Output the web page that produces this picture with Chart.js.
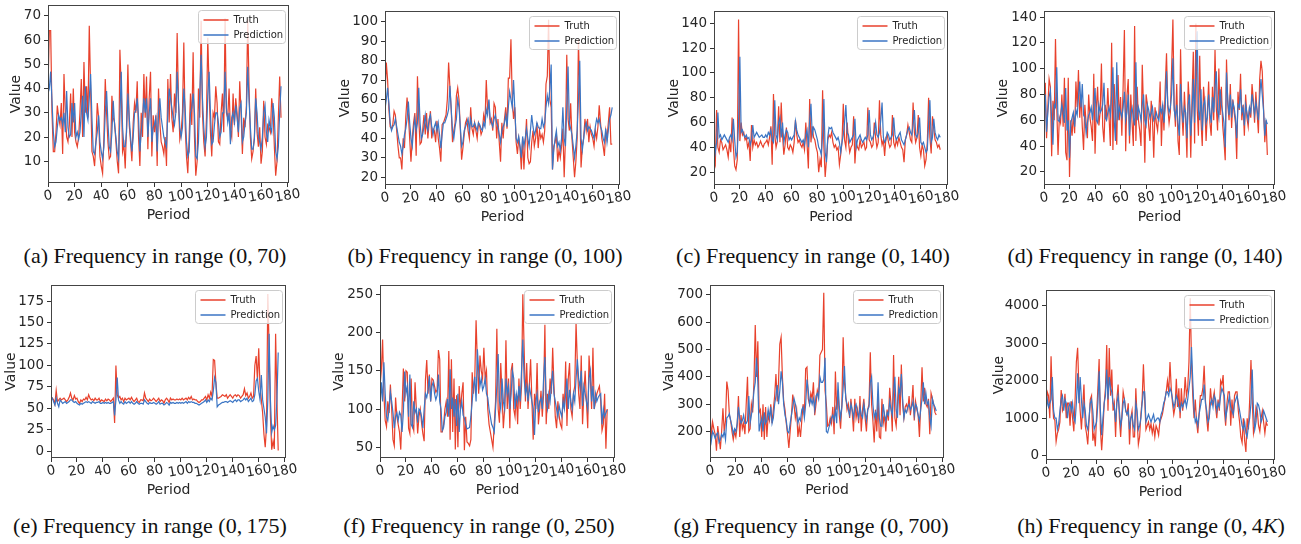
<!DOCTYPE html>
<html lang="en">
<head>
<meta charset="UTF-8">
<title>Truth vs Prediction by frequency range</title>
<style>
  body { margin: 0; background: #fff; }
  #figure { position: relative; width: 1301px; height: 544px; overflow: hidden; }
  .panel { position: absolute; }
  .caption {
    position: absolute;
    width: 400px;
    text-align: center;
    font: 22px "Liberation Serif", "Times New Roman", serif;
    line-height: 22px;
    color: #111;
    white-space: nowrap;
  }
</style>
</head>
<body>
<div id="figure"></div>

<script src="https://cdn.jsdelivr.net/npm/chart.js@4.4.0/dist/chart.umd.min.js"></script>
<script>
  const TRUTH_COLOR = '#e8412c';
  const PRED_COLOR = '#3b75c4';
  const TEXT_COLOR = '#262626';

  const X_TICKS = [0, 20, 40, 60, 80, 100, 120, 140, 160, 180];

  // (a) 0-70
  const Y_TICKS_A = [10, 20, 30, 40, 50, 60, 70];
  const TRUTH_A = [
    40, 64, 64, 30, 14, 14, 22, 33, 28, 25,
    34, 13, 46, 30, 20, 18, 25, 38, 20, 40,
    22, 18, 16, 20, 30, 44, 20, 51, 30, 41,
    28, 66, 40, 14, 12, 8, 18, 34, 28, 12,
    8, 5, 20, 44, 30, 18, 11, 12, 37, 28,
    26, 18, 10, 5, 56, 40, 14, 17, 7, 25,
    50, 25, 18, 10, 26, 34, 30, 43, 20, 8,
    30, 20, 46, 28, 45, 15, 36, 47, 12, 29,
    22, 29, 8, 40, 26, 18, 16, 13, 20, 8,
    44, 26, 46, 28, 22, 38, 30, 63, 35, 19,
    22, 30, 59, 25, 12, 5, 20, 38, 25, 55,
    20, 4, 10, 40, 28, 68, 30, 18, 12, 28,
    61, 40, 22, 12, 30, 28, 41, 34, 18, 17,
    30, 38, 22, 69, 30, 28, 40, 23, 20, 38,
    25, 36, 30, 20, 43, 30, 13, 28, 24, 33,
    69, 40, 20, 11, 14, 20, 40, 22, 16, 24,
    9, 14, 35, 20, 17, 25, 24, 22, 36, 31,
    16, 4, 10, 28, 45, 28
  ];
  const PRED_A = [
    38, 40, 47, 35, 22, 16, 18, 24, 29, 27,
    28, 25, 30, 22, 39, 24, 20, 21, 34, 26,
    34, 20, 22, 19, 22, 30, 37, 20, 41, 30,
    27, 36, 46, 28, 14, 13, 18, 22, 29, 18,
    14, 11, 16, 30, 39, 26, 16, 14, 22, 35,
    25, 20, 14, 11, 28, 47, 24, 16, 16, 22,
    38, 28, 20, 14, 20, 30, 31, 36, 28, 14,
    22, 28, 36, 30, 36, 20, 30, 36, 18, 24,
    25, 28, 14, 30, 36, 28, 24, 20, 18, 16,
    30, 40, 36, 32, 28, 25, 30, 47, 34, 24,
    20, 24, 40, 32, 18, 12, 14, 30, 32, 38,
    30, 12, 11, 18, 38, 54, 36, 24, 16, 20,
    37, 47, 30, 17, 18, 25, 30, 30, 26, 20,
    22, 30, 30, 47, 32, 26, 30, 17, 28, 30,
    26, 33, 28, 22, 32, 34, 18, 20, 26, 30,
    49, 35, 24, 15, 15, 19, 36, 30, 20, 18,
    15, 20, 30, 33, 22, 18, 27, 24, 22, 34,
    28, 14, 11, 16, 30, 41
  ];

  // (b) 0-100
  const Y_TICKS_B = [20, 30, 40, 50, 60, 70, 80, 90, 100];
  const TRUTH_B = [
    62, 79, 70, 55, 46, 45, 47, 54, 52, 44,
    36, 30, 30, 24, 40, 35, 51, 61, 52, 40,
    28, 40, 48, 53, 31, 72, 50, 37, 38, 44,
    52, 42, 53, 40, 48, 54, 40, 45, 44, 38,
    49, 40, 35, 28, 47, 48, 50, 52, 60, 79,
    66, 55, 38, 44, 48, 62, 66, 60, 45, 29,
    35, 42, 48, 50, 44, 40, 56, 45, 42, 48,
    44, 40, 48, 46, 42, 44, 52, 48, 70, 55,
    58, 48, 50, 44, 58, 56, 40, 50, 38, 28,
    48, 40, 50, 56, 45, 71, 71, 91, 60, 50,
    56, 38, 32, 40, 35, 24, 40, 24, 38, 50,
    30, 27, 28, 38, 44, 36, 40, 48, 35, 44,
    40, 42, 38, 44, 68, 72, 101, 60, 56, 24,
    36, 38, 42, 28, 34, 30, 36, 45, 20, 40,
    83, 50, 44, 58, 40, 30, 20, 28, 40, 91,
    60, 25, 36, 40, 50, 44, 50, 38, 46, 42,
    40, 36, 44, 40, 46, 57, 48, 40, 36, 31,
    44, 40, 48, 56, 37, 37
  ];
  const PRED_B = [
    55, 60, 66, 58, 48, 44, 46, 47, 50, 46,
    42, 38, 36, 32, 36, 42, 45, 50, 59, 48,
    40, 36, 45, 50, 44, 48, 66, 48, 40, 42,
    46, 52, 46, 44, 50, 52, 46, 42, 46, 48,
    44, 48, 42, 35, 42, 48, 48, 50, 52, 55,
    67, 55, 44, 40, 46, 50, 60, 56, 46, 36,
    38, 44, 46, 48, 50, 44, 50, 46, 46, 48,
    46, 44, 48, 47, 45, 44, 48, 46, 55, 52,
    60, 50, 48, 46, 50, 52, 48, 46, 42, 38,
    44, 46, 48, 52, 46, 56, 64, 60, 56, 70,
    55, 40, 38, 41, 36, 30, 41, 36, 40, 45,
    40, 36, 44, 52, 46, 42, 44, 48, 46, 45,
    45, 50, 46, 48, 56, 62, 58, 66, 78, 24,
    34, 40, 44, 36, 38, 34, 40, 56, 40, 36,
    56, 77, 48, 45, 42, 36, 30, 36, 44, 60,
    80, 40, 34, 40, 46, 48, 44, 46, 45, 44,
    42, 40, 46, 50, 48, 50, 46, 44, 40, 38,
    45, 38, 44, 50, 52, 56
  ];

  // (c) 0-140
  const Y_TICKS_C = [20, 40, 60, 80, 100, 120, 140];
  const TRUTH_C = [
    30, 26, 70, 40, 36, 46, 44, 38, 40, 42,
    38, 32, 44, 36, 64, 40, 25, 22, 30, 143,
    45, 60, 50, 52, 46, 48, 40, 44, 29, 58,
    40, 46, 42, 44, 40, 42, 45, 42, 40, 43,
    44, 46, 42, 48, 57, 26, 83, 50, 40, 45,
    73, 44, 76, 50, 34, 42, 56, 40, 38, 42,
    40, 36, 44, 62, 50, 44, 46, 42, 40, 44,
    38, 60, 42, 23, 79, 44, 57, 48, 46, 40,
    36, 20, 30, 24, 86, 40, 16, 30, 46, 50,
    48, 52, 44, 40, 42, 38, 40, 26, 34, 44,
    75, 46, 40, 60, 44, 36, 40, 42, 65, 27,
    44, 40, 38, 46, 40, 42, 44, 38, 40, 72,
    46, 44, 40, 42, 60, 48, 40, 44, 78, 50,
    42, 46, 33, 48, 50, 44, 40, 42, 66, 44,
    40, 46, 42, 48, 44, 40, 38, 28, 46, 50,
    58, 52, 46, 44, 76, 52, 44, 48, 66, 40,
    33, 42, 38, 25, 30, 44, 80, 48, 35, 65,
    55, 46, 44, 40, 42, 38
  ];
  const PRED_C = [
    48, 36, 44, 68, 48, 50, 46, 48, 50, 48,
    46, 44, 48, 50, 46, 63, 46, 32, 36, 60,
    113, 52, 54, 50, 48, 50, 47, 48, 42, 46,
    58, 48, 50, 52, 50, 48, 49, 50, 48, 48,
    50, 48, 52, 50, 54, 46, 44, 78, 50, 46,
    60, 64, 48, 60, 44, 50, 54, 52, 46, 48,
    46, 48, 50, 61, 54, 50, 48, 46, 44, 46,
    42, 50, 54, 40, 62, 75, 50, 56, 54, 50,
    46, 40, 38, 34, 50, 79, 36, 28, 48, 56,
    55, 56, 52, 50, 48, 46, 48, 44, 36, 44,
    50, 60, 74, 52, 50, 44, 46, 48, 50, 63,
    40, 46, 48, 50, 46, 44, 46, 48, 46, 50,
    70, 50, 46, 48, 52, 60, 50, 48, 52, 62,
    76, 48, 44, 46, 52, 50, 46, 48, 50, 64,
    50, 46, 48, 50, 52, 46, 44, 42, 46, 50,
    54, 56, 52, 50, 58, 70, 50, 48, 52, 64,
    44, 42, 44, 40, 36, 38, 60, 78, 44, 48,
    63, 52, 48, 46, 50, 48
  ];

  // (d) 0-140
  const Y_TICKS_D = [20, 40, 60, 80, 100, 120, 140];
  const TRUTH_D = [
    45, 89, 46, 70, 92, 86, 32, 75, 60, 123,
    70, 33, 62, 58, 80, 55, 93, 35, 29, 93,
    16, 60, 48, 65, 50, 90, 70, 99, 62, 80,
    55, 37, 72, 58, 46, 80, 62, 55, 44, 96,
    34, 70, 86, 56, 66, 104, 55, 43, 72, 60,
    85, 62, 40, 120, 37, 88, 66, 41, 95, 60,
    78, 48, 86, 130, 36, 79, 92, 42, 80, 58,
    40, 133, 44, 86, 60, 52, 40, 103, 68, 27,
    80, 72, 56, 44, 75, 60, 31, 70, 58, 52,
    66, 90, 40, 72, 52, 86, 112, 70, 58, 66,
    100, 138, 72, 55, 88, 44, 33, 115, 66, 48,
    82, 60, 31, 90, 72, 31, 78, 113, 42, 135,
    70, 48, 110, 60, 40, 86, 72, 44, 66, 90,
    58, 48, 86, 60, 115, 70, 52, 100, 64, 86,
    56, 44, 29, 107, 72, 60, 88, 54, 76, 66,
    58, 30, 82, 68, 96, 60, 72, 48, 80, 62,
    55, 70, 62, 88, 76, 58, 82, 65, 50, 92,
    106, 98, 70, 43, 60, 33
  ];
  const PRED_D = [
    60, 80, 51, 66, 78, 83, 60, 41, 72, 70,
    101, 60, 59, 64, 72, 66, 58, 85, 52, 60,
    31, 58, 62, 66, 55, 68, 64, 78, 90, 70,
    88, 64, 62, 50, 58, 64, 66, 70, 60, 72,
    85, 60, 58, 72, 66, 68, 72, 89, 62, 60,
    66, 70, 64, 80, 101, 60, 44, 105, 60, 70,
    66, 62, 70, 82, 60, 66, 80, 48, 66, 70,
    62, 56, 105, 60, 70, 66, 60, 72, 80, 60,
    56, 72, 68, 62, 66, 70, 60, 62, 66, 62,
    60, 70, 66, 72, 58, 70, 98, 72, 66, 70,
    80, 108, 68, 62, 72, 58, 48, 88, 70, 58,
    70, 66, 46, 72, 80, 48, 66, 92, 58, 98,
    129, 68, 60, 84, 52, 72, 76, 58, 62, 80,
    66, 58, 78, 66, 86, 98, 68, 62, 84, 72,
    66, 58, 39, 97, 76, 64, 80, 62, 74, 70,
    62, 46, 72, 70, 84, 66, 70, 56, 72, 66,
    60, 70, 66, 80, 72, 64, 74, 68, 60, 78,
    92, 80, 68, 48, 60, 57
  ];

  // (e) 0-175
  const Y_TICKS_E = [0, 25, 50, 75, 100, 125, 150, 175];
  const TRUTH_E = [
    64, 62, 60, 55, 71, 58, 60, 62, 60, 61,
    62, 60, 58, 60, 63, 68, 62, 60, 65, 61,
    62, 58, 56, 60, 58, 61, 60, 63, 60, 66,
    62, 60, 61, 59, 62, 60, 60, 62, 58, 60,
    59, 58, 61, 59, 61, 60, 58, 60, 62, 33,
    100, 66, 62, 64, 60, 62, 58, 62, 60, 61,
    62, 60, 63, 60, 58, 60, 62, 58, 57, 60,
    60, 59, 68, 62, 60, 58, 61, 59, 60, 62,
    60, 58, 60, 62, 58, 60, 59, 56, 60, 62,
    60, 57, 62, 60, 61, 60, 60, 61, 60, 61,
    60, 62, 60, 61, 62, 60, 63, 61, 64, 60,
    61, 60, 60, 58, 57, 58, 60, 60, 62, 64,
    60, 66, 62, 69, 64, 107, 106, 80, 62, 62,
    63, 64, 66, 65, 64, 66, 62, 64, 66, 64,
    62, 65, 66, 64, 66, 65, 62, 64, 66, 73,
    65, 68, 62, 64, 68, 62, 64, 100, 111, 83,
    120, 75, 60, 45, 20, 5, 30, 183, 120, 40,
    2, 12, 3, 137, 60, 1
  ];
  const PRED_E = [
    60, 62, 58, 54, 62, 56, 52, 60, 58, 56,
    57, 58, 56, 57, 58, 60, 60, 58, 57, 58,
    56, 55, 54, 56, 55, 56, 57, 58, 57, 58,
    57, 56, 58, 57, 56, 57, 57, 58, 56, 56,
    57, 56, 57, 56, 57, 56, 56, 57, 58, 42,
    60, 86, 60, 56, 58, 56, 55, 58, 56, 57,
    58, 56, 58, 56, 55, 56, 58, 56, 55, 56,
    56, 55, 60, 58, 56, 55, 57, 56, 56, 57,
    56, 55, 56, 58, 55, 56, 56, 54, 55, 57,
    56, 54, 57, 56, 57, 56, 56, 57, 56, 57,
    56, 57, 56, 57, 58, 56, 58, 57, 58, 57,
    57, 56, 56, 55, 54, 55, 56, 57, 58, 60,
    57, 60, 58, 62, 60, 70, 86, 80, 52, 54,
    55, 56, 57, 57, 58, 58, 57, 58, 59, 58,
    57, 59, 60, 58, 60, 60, 58, 59, 60, 62,
    60, 62, 58, 60, 62, 58, 59, 66, 82, 85,
    70, 60, 89, 60, 50, 40, 21, 60, 137, 60,
    22, 30, 25, 30, 60, 115
  ];

  // (f) 0-250
  const Y_TICKS_F = [50, 100, 150, 200, 250];
  const TRUTH_F = [
    130, 150, 191, 120, 85, 77, 110, 95, 132, 100,
    60, 52, 115, 90, 80, 70, 47, 100, 153, 110,
    150, 148, 75, 68, 140, 80, 72, 135, 100, 68,
    90, 100, 82, 68, 58, 138, 164, 120, 145, 110,
    140, 138, 130, 122, 125, 177, 165, 70, 70, 80,
    100, 110, 90, 176, 60, 165, 70, 140, 47, 118,
    50, 130, 100, 120, 135, 46, 90, 57, 55, 52,
    60, 148, 120, 140, 216, 160, 120, 170, 150, 140,
    180, 140, 150, 100, 80, 70, 60, 50, 80, 110,
    205, 100, 82, 160, 120, 75, 100, 190, 100, 140,
    75, 150, 160, 100, 90, 120, 80, 140, 100, 130,
    250, 180, 110, 160, 100, 130, 165, 110, 60, 120,
    100, 160, 80, 100, 124, 90, 120, 210, 80, 120,
    100, 140, 120, 180, 130, 90, 75, 110, 90, 80,
    75, 120, 100, 162, 78, 140, 160, 100, 90, 120,
    130, 212, 160, 120, 100, 170, 80, 120, 150, 110,
    75, 170, 140, 100, 180, 100, 110, 120, 125, 130,
    110, 72, 80, 120, 48, 100
  ];
  const PRED_F = [
    100, 135, 110, 161, 120, 90, 85, 100, 122, 110,
    95, 75, 90, 95, 85, 96, 92, 70, 96, 149,
    120, 130, 90, 145, 80, 76, 110, 95, 100, 82,
    100, 98, 90, 75, 100, 120, 115, 125, 143, 110,
    130, 135, 120, 112, 118, 145, 110, 100, 72, 76,
    90, 96, 113, 90, 152, 100, 115, 90, 113, 78,
    120, 70, 100, 110, 92, 88, 80, 74, 75, 76,
    90, 110, 130, 142, 110, 178, 150, 130, 140, 125,
    130, 140, 120, 115, 100, 90, 80, 76, 70, 100,
    130, 172, 110, 100, 140, 110, 100, 140, 120, 130,
    100, 120, 150, 140, 100, 120, 110, 130, 110, 150,
    191, 140, 120, 130, 110, 130, 120, 110, 100, 66,
    110, 120, 96, 110, 114, 100, 140, 168, 110, 100,
    120, 110, 130, 150, 120, 110, 100, 90, 104, 96,
    90, 110, 100, 120, 140, 100, 125, 110, 100, 120,
    110, 140, 165, 140, 128, 150, 104, 130, 120, 110,
    100, 140, 150, 110, 130, 100, 120, 110, 115, 118,
    120, 80, 100, 90, 95, 99
  ];

  // (g) 0-700
  const Y_TICKS_G = [200, 300, 400, 500, 600, 700];
  const TRUTH_G = [
    275, 180, 235, 210, 190, 130, 220, 180, 135, 200,
    285, 200, 240, 383, 350, 260, 240, 200, 170, 200,
    180, 220, 330, 180, 260, 210, 230, 190, 300, 400,
    200, 210, 300, 270, 380, 590, 400, 530, 270, 280,
    180, 300, 170, 290, 180, 260, 240, 300, 230, 280,
    330, 410, 310, 380, 520, 545, 400, 310, 280, 230,
    190, 140, 200, 260, 335, 300, 250, 280, 180, 220,
    180, 240, 300, 260, 430, 436, 320, 300, 340, 320,
    380, 260, 300, 350, 330, 480, 490, 500, 708, 350,
    300, 220, 225, 250, 230, 290, 190, 420, 280, 350,
    260, 210, 300, 545, 380, 330, 280, 300, 250, 320,
    270, 200, 320, 250, 280, 230, 330, 200, 280, 320,
    250, 200, 280, 300, 490, 300, 240, 160, 280, 200,
    320, 180, 175, 320, 230, 260, 200, 280, 240, 360,
    300, 200, 480, 250, 220, 300, 400, 260, 445, 300,
    250, 290, 300, 280, 330, 260, 300, 370, 240, 310,
    280, 260, 180, 300, 435, 310, 360, 300, 290, 320,
    190, 340, 320, 300, 270, 260
  ];
  const PRED_G = [
    210, 165, 200, 190, 175, 190, 195, 160, 170, 190,
    180, 200, 170, 250, 255, 265, 240, 220, 190, 210,
    200, 230, 290, 250, 230, 240, 260, 230, 230, 240,
    330, 230, 260, 290, 350, 380, 470, 380, 200, 230,
    250, 200, 270, 230, 240, 280, 250, 290, 230, 250,
    300, 330, 370, 300, 350, 420, 380, 300, 260, 240,
    200, 195, 230, 260, 290, 320, 300, 270, 230, 250,
    240, 280, 290, 250, 300, 390, 350, 300, 320, 300,
    320, 280, 330, 340, 320, 400, 380, 380, 390, 470,
    200, 195, 215, 230, 250, 260, 240, 280, 230, 380,
    290, 250, 290, 360, 440, 320, 300, 280, 260, 300,
    280, 250, 290, 300, 270, 250, 290, 260, 250, 300,
    270, 240, 280, 290, 380, 400, 300, 250, 270, 250,
    380, 250, 220, 220, 300, 260, 240, 270, 260, 310,
    280, 260, 350, 400, 280, 250, 360, 340, 410, 320,
    250, 280, 270, 290, 300, 280, 290, 310, 260, 300,
    290, 260, 240, 280, 320, 380, 300, 340, 300, 310,
    250, 220, 320, 300, 290, 275
  ];

  // (h) 0-4K
  const Y_TICKS_H = [0, 1000, 2000, 3000, 4000];
  const TRUTH_H = [
    1100, 1700, 1600, 1000, 2650, 1500, 1000, 950, 380, 600,
    700, 900, 1750, 1200, 1300, 1650, 1000, 1400, 1400, 800,
    1450, 1000, 650, 1500, 2500, 2880, 1800, 1200, 700, 1300,
    1900, 800, 600, 300, 900, 1500, 1600, 400, 600, 250,
    1100, 1800, 2580, 700, 150, 700, 1400, 1800, 2950, 1200,
    2870, 1600, 2300, 1200, 1400, 500, 1500, 1900, 1000, 500,
    1100, 1700, 1500, 1200, 1100, 1400, 300, 1000, 1200, 500,
    500, 1800, 1000, 300, 500, 1100, 1500, 2440, 1500, 700,
    800, 900, 700, 850, 600, 800, 500, 800, 700, 550,
    900, 1000, 1100, 1300, 1500, 1700, 2000, 1700, 2500, 1800,
    1400, 1100, 1300, 2050, 1300, 1800, 1000, 1800, 1200, 1500,
    2100, 1600, 1800, 2500, 4200, 2500, 1600, 1000, 1500, 900,
    600, 1100, 1600, 1600, 1800, 2400, 1500, 1000, 650, 1200,
    1800, 1400, 1500, 1700, 1300, 1000, 1500, 1200, 2000, 1900,
    2150, 1200, 800, 1400, 1700, 1700, 800, 1500, 1000, 1600,
    1700, 1700, 1200, 900, 500, 350, 1000, 400, 100, 1000,
    700, 1500, 2550, 1500, 600, 800, 1300, 1200, 800, 650,
    1000, 1200, 900, 600, 900, 800
  ];
  const PRED_H = [
    1200, 1500, 1300, 1400, 1500, 2100, 1200, 1000, 1000, 700,
    850, 1200, 1500, 1600, 1200, 1500, 1400, 1000, 1300, 1400,
    1200, 1400, 1000, 900, 1400, 2200, 1400, 2100, 1500, 1000,
    1400, 1200, 800, 700, 1000, 1400, 1500, 1200, 700, 800,
    900, 1400, 2250, 1200, 550, 1000, 1400, 1600, 2300, 1500,
    2100, 1800, 1700, 1400, 1300, 900, 1400, 1600, 1200, 800,
    1000, 1400, 1500, 1200, 1100, 1200, 700, 1000, 1100, 800,
    700, 1400, 1200, 700, 800, 1000, 1400, 1700, 1700, 900,
    1000, 1100, 1000, 900, 1000, 1100, 900, 950, 1000, 1000,
    900, 1100, 1200, 1400, 1500, 1700, 1700, 1600, 1800, 1700,
    1500, 1300, 1400, 1600, 1500, 1300, 1200, 1400, 1300, 1400,
    1500, 1300, 1500, 1800, 2100, 2900, 2000, 1200, 900, 1000,
    800, 1100, 1300, 1500, 1500, 1900, 1400, 1200, 900, 1000,
    1400, 1500, 1300, 1600, 1500, 1200, 1400, 1300, 1600, 1800,
    1700, 1600, 1000, 1200, 1400, 1600, 1300, 1200, 1100, 1400,
    1500, 1600, 1400, 1200, 1000, 800, 700, 900, 600, 500,
    800, 1000, 1400, 2300, 1200, 700, 900, 1400, 1350, 1200,
    900, 1000, 1200, 1100, 1000, 900
  ];

  // frame = plot box on the page [left, top, right, bottom]
  const PANELS = [
    { truth: TRUTH_A, pred: PRED_A, yTicks: Y_TICKS_A, yMin: 1, yMax: 74.5, frame: [48, 4, 289, 183], yW: 40,
      caption: '(a) Frequency in range (0,&#8201;70)', capX: 155, capY: 245 },
    { truth: TRUTH_B, pred: PRED_B, yTicks: Y_TICKS_B, yMin: 16, yMax: 105.5, frame: [385, 10, 620, 185], yW: 48,
      caption: '(b) Frequency in range (0,&#8201;100)', capX: 485, capY: 245 },
    { truth: TRUTH_C, pred: PRED_C, yTicks: Y_TICKS_C, yMin: 9.6, yMax: 149.8, frame: [714, 10, 948, 185], yW: 48,
      caption: '(c) Frequency in range (0,&#8201;140)', capX: 813, capY: 245 },
    { truth: TRUTH_D, pred: PRED_D, yTicks: Y_TICKS_D, yMin: 9.8, yMax: 144.6, frame: [1044, 10, 1275, 185], yW: 49,
      caption: '(d) Frequency in range (0,&#8201;140)', capX: 1145, capY: 245 },
    { truth: TRUTH_E, pred: PRED_E, yTicks: Y_TICKS_E, yMin: -7.6, yMax: 193.5, frame: [51, 284, 286, 458], yW: 48,
      caption: '(e) Frequency in range (0,&#8201;175)', capX: 150, capY: 515 },
    { truth: TRUTH_F, pred: PRED_F, yTicks: Y_TICKS_F, yMin: 36, yMax: 262, frame: [380, 284, 615, 458], yW: 49,
      caption: '(f) Frequency in range (0,&#8201;250)', capX: 479, capY: 515 },
    { truth: TRUTH_G, pred: PRED_G, yTicks: Y_TICKS_G, yMin: 103, yMax: 736, frame: [710, 284, 944, 458], yW: 49,
      caption: '(g) Frequency in range (0,&#8201;700)', capX: 811, capY: 515 },
    { truth: TRUTH_H, pred: PRED_H, yTicks: Y_TICKS_H, yMin: -114, yMax: 4416, frame: [1046, 289, 1275, 460], yW: 55,
      caption: '(h) Frequency in range (0,&#8201;4<i>K</i>)', capX: 1151, capY: 515 },
  ];

  const X_AXIS_H = 41;
  const PAD_TOP = 10;
  const PAD_RIGHT = 16;
  const TICK_FONT = { family: 'DejaVu Sans', size: 13.5 };
  const TITLE_FONT = { family: 'DejaVu Sans', size: 14, lineHeight: 1.2 };

  // box, tilted x labels and legend, like the matplotlib originals
  const boxPlugin = {
    id: 'box',
    afterDatasetsDraw(chart) {
      const { ctx, chartArea: a } = chart;
      const x = chart.scales.x;
      ctx.save();

      ctx.strokeStyle = '#444';
      ctx.lineWidth = 1;
      ctx.strokeRect(Math.round(a.left) + .5, Math.round(a.top) + .5,
        Math.round(a.right - a.left) - 1, Math.round(a.bottom - a.top) - 1);

      ctx.fillStyle = TEXT_COLOR;
      ctx.font = TICK_FONT.size + 'px "DejaVu Sans"';
      ctx.textAlign = 'center';
      ctx.textBaseline = 'middle';
      for (const v of X_TICKS) {
        ctx.save();
        ctx.translate(x.getPixelForValue(v), a.bottom + 13);
        ctx.rotate(-10 * Math.PI / 180);
        ctx.fillText(String(v), 0, 0);
        ctx.restore();
      }

      const bw = 87, bh = 33;
      const bx = Math.round(a.right) - 4 - bw + .5;
      const by = Math.round(a.top) + 5 + .5;
      ctx.beginPath();
      ctx.roundRect(bx, by, bw, bh, 3);
      ctx.fillStyle = 'rgba(255,255,255,0.8)';
      ctx.fill();
      ctx.strokeStyle = '#cccccc';
      ctx.lineWidth = 1;
      ctx.stroke();

      ctx.font = '10px "DejaVu Sans"';
      ctx.textAlign = 'left';
      chart.data.datasets.forEach((ds, i) => {
        const ly = Math.round(by + 9 + i * 15);
        ctx.beginPath();
        ctx.moveTo(bx + 5, ly);
        ctx.lineTo(bx + 30, ly);
        ctx.strokeStyle = ds.borderColor;
        ctx.lineWidth = 1.5;
        ctx.stroke();
        ctx.fillStyle = TEXT_COLOR;
        ctx.fillText(ds.label, bx + 35, ly);
      });
      ctx.restore();
    }
  };

  function setupPanel(p) {
    const [L, T, R, B] = p.frame;
    const left = L - p.yW;
    const top = T - PAD_TOP;
    const width = R - left + PAD_RIGHT;
    const height = B + X_AXIS_H - top;

    const div = document.createElement('div');
    div.className = 'panel';
    div.style.left = left + 'px';
    div.style.top = top + 'px';
    const canvas = document.createElement('canvas');
    canvas.width = width;
    canvas.height = height;
    canvas.style.width = width + 'px';
    canvas.style.height = height + 'px';
    div.appendChild(canvas);
    document.getElementById('figure').appendChild(div);

    const toPoints = arr => arr.map((v, i) => ({ x: i, y: v }));

    new Chart(canvas, {
      type: 'line',
      data: {
        datasets: [
          { label: 'Truth', data: toPoints(p.truth), borderColor: TRUTH_COLOR, borderWidth: 1.2, pointRadius: 0, order: 2 },
          { label: 'Prediction', data: toPoints(p.pred), borderColor: PRED_COLOR, borderWidth: 1.2, pointRadius: 0, order: 1 }
        ]
      },
      plugins: [boxPlugin],
      options: {
        responsive: false,
        animation: false,
        events: [],
        layout: { padding: { top: PAD_TOP, right: PAD_RIGHT, left: 0, bottom: 0 } },
        plugins: {
          legend: { display: false },
          tooltip: { enabled: false }
        },
        scales: {
          x: {
            type: 'linear',
            min: 0,
            max: 181,
            afterBuildTicks: s => { s.ticks = X_TICKS.map(v => ({ value: v })); },
            afterFit: s => { s.height = X_AXIS_H; },
            border: { display: false },
            grid: { drawOnChartArea: false, tickLength: 4, color: '#333' },
            ticks: { display: false },
            title: { display: true, text: 'Period', color: TEXT_COLOR, font: TITLE_FONT, padding: 0 }
          },
          y: {
            min: p.yMin,
            max: p.yMax,
            afterBuildTicks: s => { s.ticks = p.yTicks.map(v => ({ value: v })); },
            afterFit: s => { s.width = p.yW; },
            border: { display: false },
            grid: { drawOnChartArea: false, tickLength: 4, color: '#333' },
            ticks: { padding: 3, color: TEXT_COLOR, font: TICK_FONT, callback: v => String(v) },
            title: { display: true, text: 'Value', color: TEXT_COLOR, font: TITLE_FONT, padding: 0 }
          }
        }
      }
    });

    const cap = document.createElement('div');
    cap.className = 'caption';
    cap.style.left = (p.capX - 200) + 'px';
    cap.style.top = p.capY + 'px';
    cap.innerHTML = p.caption;
    document.getElementById('figure').appendChild(cap);
  }

  PANELS.forEach(setupPanel);
</script>
</body>
</html>
